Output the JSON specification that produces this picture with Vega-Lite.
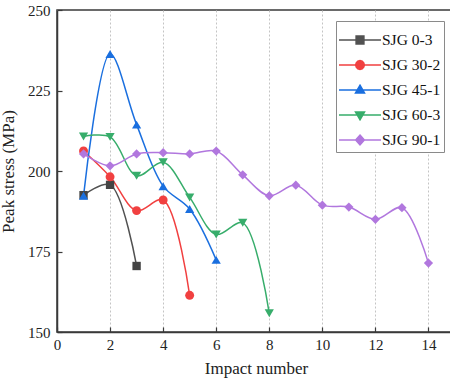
{
  "$schema": "https://vega.github.io/schema/vega-lite/v6.json",
  "width": 398,
  "height": 322,
  "autosize": {"type": "none"},
  "padding": {"left": 57, "top": 10, "right": 0, "bottom": 51},
  "background": "white",
  "config": {
    "font": "Times New Roman, Liberation Serif, serif",
    "view": {"stroke": "#3a3a3a", "strokeWidth": 1.5},
    "axis": {
      "labelFont": "Times New Roman, Liberation Serif, serif",
      "titleFont": "Times New Roman, Liberation Serif, serif",
      "labelFontSize": 15,
      "titleFontSize": 17,
      "titleFontWeight": "normal",
      "labelColor": "#222",
      "titleColor": "#222",
      "domainColor": "#3a3a3a",
      "domainWidth": 1.5,
      "tickColor": "#3a3a3a",
      "tickWidth": 1.2
    },
    "legend": {
      "labelFont": "Times New Roman, Liberation Serif, serif",
      "labelFontSize": 15.5,
      "labelColor": "#111"
    }
  },
  "data": {
    "values": [
      {"series": "SJG 0-3", "impact": 1, "stress": 192.5},
      {"series": "SJG 0-3", "impact": 2, "stress": 195.7},
      {"series": "SJG 0-3", "impact": 3, "stress": 170.5},
      {"series": "SJG 30-2", "impact": 1, "stress": 206.2},
      {"series": "SJG 30-2", "impact": 2, "stress": 198.2},
      {"series": "SJG 30-2", "impact": 3, "stress": 187.7},
      {"series": "SJG 30-2", "impact": 4, "stress": 191.0},
      {"series": "SJG 30-2", "impact": 5, "stress": 161.4},
      {"series": "SJG 45-1", "impact": 1, "stress": 192.3},
      {"series": "SJG 45-1", "impact": 2, "stress": 236.3},
      {"series": "SJG 45-1", "impact": 3, "stress": 214.4},
      {"series": "SJG 45-1", "impact": 4, "stress": 195.3},
      {"series": "SJG 45-1", "impact": 5, "stress": 188.2},
      {"series": "SJG 45-1", "impact": 6, "stress": 172.4},
      {"series": "SJG 60-3", "impact": 1, "stress": 210.7},
      {"series": "SJG 60-3", "impact": 2, "stress": 210.6},
      {"series": "SJG 60-3", "impact": 3, "stress": 198.5},
      {"series": "SJG 60-3", "impact": 4, "stress": 202.7},
      {"series": "SJG 60-3", "impact": 5, "stress": 191.8},
      {"series": "SJG 60-3", "impact": 6, "stress": 180.3},
      {"series": "SJG 60-3", "impact": 7, "stress": 183.9},
      {"series": "SJG 60-3", "impact": 8, "stress": 155.8},
      {"series": "SJG 90-1", "impact": 1, "stress": 205.3},
      {"series": "SJG 90-1", "impact": 2, "stress": 201.6},
      {"series": "SJG 90-1", "impact": 3, "stress": 205.3},
      {"series": "SJG 90-1", "impact": 4, "stress": 205.7},
      {"series": "SJG 90-1", "impact": 5, "stress": 205.3},
      {"series": "SJG 90-1", "impact": 6, "stress": 206.2},
      {"series": "SJG 90-1", "impact": 7, "stress": 198.8},
      {"series": "SJG 90-1", "impact": 8, "stress": 192.3},
      {"series": "SJG 90-1", "impact": 9, "stress": 195.6},
      {"series": "SJG 90-1", "impact": 10, "stress": 189.4},
      {"series": "SJG 90-1", "impact": 11, "stress": 188.8},
      {"series": "SJG 90-1", "impact": 12, "stress": 185.0},
      {"series": "SJG 90-1", "impact": 13, "stress": 188.6},
      {"series": "SJG 90-1", "impact": 14, "stress": 171.4}
    ]
  },
  "encoding": {
    "x": {
      "field": "impact",
      "type": "quantitative",
      "scale": {"domain": [0, 15], "nice": false, "zero": false},
      "axis": {
        "title": "Impact number",
        "values": [0, 2, 4, 6, 8, 10, 12, 14],
        "grid": true,
        "gridDash": [2, 2],
        "gridColor": "#c4c4c4",
        "gridWidth": 1,
        "tickSize": -5,
        "labelPadding": 10,
        "titlePadding": 8,
        "labelFlush": false
      }
    },
    "y": {
      "field": "stress",
      "type": "quantitative",
      "scale": {"domain": [150, 250], "nice": false, "zero": false},
      "axis": {
        "title": "Peak stress (MPa)",
        "values": [150, 175, 200, 225, 250],
        "grid": false,
        "tickSize": -5,
        "labelPadding": 12,
        "titlePadding": 10,
        "labelFlush": false
      }
    },
    "color": {
      "field": "series",
      "type": "nominal",
      "scale": {
        "domain": ["SJG 0-3", "SJG 30-2", "SJG 45-1", "SJG 60-3", "SJG 90-1"],
        "range": ["#515151", "#F14040", "#1A6FDF", "#37AD6B", "#B177DE"]
      },
      "legend": {
        "title": null,
        "orient": "top-right",
        "offset": 11,
        "padding": 3,
        "strokeColor": "#8a8a8a",
        "fillColor": "white",
        "symbolSize": 900,
        "symbolStrokeWidth": 1.5,
        "symbolOffset": 5,
        "rowPadding": 0,
        "labelOffset": 6,
        "labelFont": "Times New Roman, Liberation Serif, serif",
        "encode": {
          "symbols": {
            "update": {
              "stroke": {"scale": "color", "field": "value"},
              "strokeWidth": {"value": 1.5}
            }
          }
        }
      }
    },
    "shape": {
      "field": "series",
      "type": "nominal",
      "scale": {
        "domain": ["SJG 0-3", "SJG 30-2", "SJG 45-1", "SJG 60-3", "SJG 90-1"],
        "range": [
          "M-1.4,0L1.4,0M-0.26,-0.26L0.26,-0.26L0.26,0.26L-0.26,0.26Z",
          "M-1.4,0L1.4,0M0.29,0L0.25,0.145L0.145,0.25L0,0.29L-0.145,0.25L-0.25,0.145L-0.29,0L-0.25,-0.145L-0.145,-0.25L0,-0.29L0.145,-0.25L0.25,-0.145Z",
          "M-1.4,0L1.4,0M0,-0.32L0.3,0.2L-0.3,0.2Z",
          "M-1.4,0L1.4,0M0,0.32L0.3,-0.2L-0.3,-0.2Z",
          "M-1.4,0L1.4,0M0,-0.33L0.29,0L0,0.33L-0.29,0Z"
        ]
      },
      "legend": {
        "title": null,
        "orient": "top-right",
        "offset": 11,
        "padding": 3,
        "strokeColor": "#8a8a8a",
        "fillColor": "white",
        "symbolSize": 900,
        "symbolStrokeWidth": 1.5,
        "symbolOffset": 5,
        "rowPadding": 0,
        "labelOffset": 6,
        "labelFont": "Times New Roman, Liberation Serif, serif"
      }
    }
  },
  "layer": [
    {
      "mark": {"type": "line", "interpolate": "catmull-rom", "strokeWidth": 1.5},
      "encoding": {
        "order": {"field": "impact", "type": "quantitative"},
        "shape": null
      }
    },
    {
      "transform": [{"filter": "datum.series === 'SJG 0-3'"}],
      "mark": {"type": "point", "filled": true, "opacity": 1, "size": 70, "shape": "square", "color": "#444444"},
      "encoding": {"color": null, "shape": null}
    },
    {
      "transform": [{"filter": "datum.series === 'SJG 30-2'"}],
      "mark": {"type": "point", "filled": true, "opacity": 1, "size": 80, "shape": "circle", "color": "#F14040"},
      "encoding": {"color": null, "shape": null}
    },
    {
      "transform": [{"filter": "datum.series === 'SJG 45-1'"}],
      "mark": {"type": "point", "filled": true, "opacity": 1, "size": 85, "shape": "triangle-up", "color": "#1A6FDF"},
      "encoding": {"color": null, "shape": null}
    },
    {
      "transform": [{"filter": "datum.series === 'SJG 60-3'"}],
      "mark": {"type": "point", "filled": true, "opacity": 1, "size": 85, "shape": "triangle-down", "color": "#37AD6B"},
      "encoding": {"color": null, "shape": null}
    },
    {
      "transform": [{"filter": "datum.series === 'SJG 90-1'"}],
      "mark": {"type": "point", "filled": true, "opacity": 1, "size": 85, "shape": "diamond", "color": "#B177DE"},
      "encoding": {"color": null, "shape": null}
    },
    {
      "transform": [{"filter": "false"}],
      "mark": {"type": "point", "filled": true, "strokeWidth": 1.5, "opacity": 1}
    }
  ]
}
